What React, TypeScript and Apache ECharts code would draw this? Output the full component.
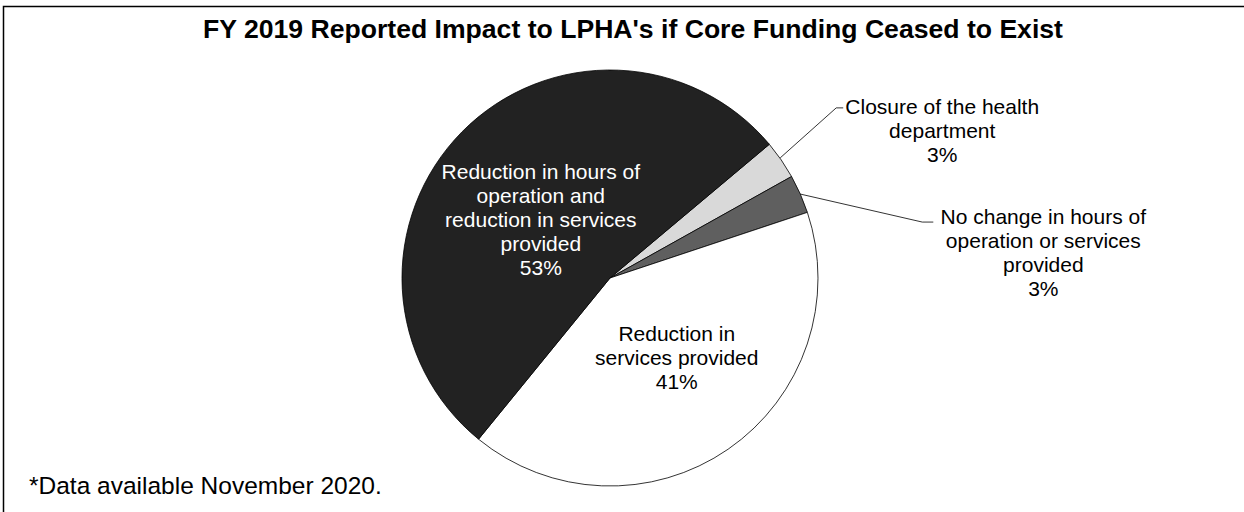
import React, { useEffect, useRef } from 'react';
import * as echarts from 'echarts';

const titleText = "FY 2019 Reported Impact to LPHA's if Core Funding Ceased to Exist";
const footnoteText = '*Data available November 2020.';

const categories = [
  'Closure of the health department',
  'No change in hours of operation or services provided',
  'Reduction in services provided',
  'Reduction in hours of operation and reduction in services provided',
];
const percents = [3, 3, 41, 53];
const labelLinesText = [
  ['Closure of the health', 'department'],
  ['No change in hours of', 'operation or services', 'provided'],
  ['Reduction in', 'services provided'],
  ['Reduction in hours of', 'operation and', 'reduction in services', 'provided'],
];
const sliceColors = ['#d9d9d9', '#5f5f5f', '#ffffff', '#222222'];
const labelColors = ['#000000', '#000000', '#000000', '#ffffff'];

export default function App() {
  const ref = useRef<HTMLDivElement>(null);
  useEffect(() => {
    const chart = echarts.init(ref.current!, null, { renderer: 'svg' });
    const font = "Arial, 'Liberation Sans', sans-serif";
    const data = categories.map((name, i) => {
      const inside = i >= 2;
      return {
        name,
        value: percents[i],
        itemStyle: { color: sliceColors[i] },
        label: {
          position: inside ? 'inside' : 'outside',
          color: labelColors[i],
        },
        labelLine: { show: !inside },
      };
    });
    chart.setOption({
      animation: false,
      backgroundColor: '#ffffff',
      title: [
        {
          text: titleText,
          left: 203,
          top: 15,
          padding: 0,
          textStyle: { fontFamily: font, fontWeight: 'bold', fontSize: 26.6, color: '#000' },
        },
        {
          text: footnoteText,
          left: 29,
          top: 473,
          padding: 0,
          textStyle: { fontFamily: font, fontWeight: 'normal', fontSize: 24.5, color: '#000' },
        },
      ],
      graphic: [
        {
          type: 'rect',
          shape: { x: 3.5, y: 6.5, width: 1400, height: 700 },
          style: { fill: 'none', stroke: '#000', lineWidth: 1.5 },
          silent: true,
          z: 0,
        },
      ],
      series: [
        {
          type: 'pie',
          center: [610, 278],
          radius: [0, 208],
          startAngle: 40,
          clockwise: true,
          avoidLabelOverlap: false,
          itemStyle: { borderColor: '#000', borderWidth: 0.8 },
          label: {
            fontFamily: font,
            fontSize: 21,
            lineHeight: 24,
            align: 'center',
            formatter: (p: any) =>
              labelLinesText[p.dataIndex].join('\n') + '\n' + Math.round(p.percent) + '%',
          },
          labelLine: {
            show: true,
            lineStyle: { color: '#000', width: 0.8 },
          },
          labelLayout: (p: any) => {
            const i = p.dataIndex;
            const pts = p.labelLinePoints;
            if (i === 0 && pts) {
              const x0 = pts[0][0];
              const y0 = pts[0][1];
              return {
                x: x0 + 161,
                y: y0 - 29,
                align: 'center',
                verticalAlign: 'middle',
                labelLinePoints: [[x0 - 1, y0 - 2], [x0 + 55, y0 - 52], [x0 + 62, y0 - 52]],
              };
            }
            if (i === 1 && pts) {
              const x0 = pts[0][0];
              const y0 = pts[0][1];
              return {
                x: x0 + 243,
                y: y0 + 58,
                align: 'center',
                verticalAlign: 'middle',
                labelLinePoints: [[x0, y0], [x0 + 122, y0 + 28], [x0 + 133, y0 + 28]],
              };
            }
            if (i === 2) return { dx: 6, dy: -9 };
            if (i === 3) return { dx: 7, dy: 17 };
            return {};
          },
          data,
        },
      ],
    });
    return () => chart.dispose();
  }, []);
  return (
    <div
      ref={ref}
      style={{ position: 'fixed', left: 0, top: 0, width: 1244, height: 512, background: '#fff' }}
    />
  );
}
